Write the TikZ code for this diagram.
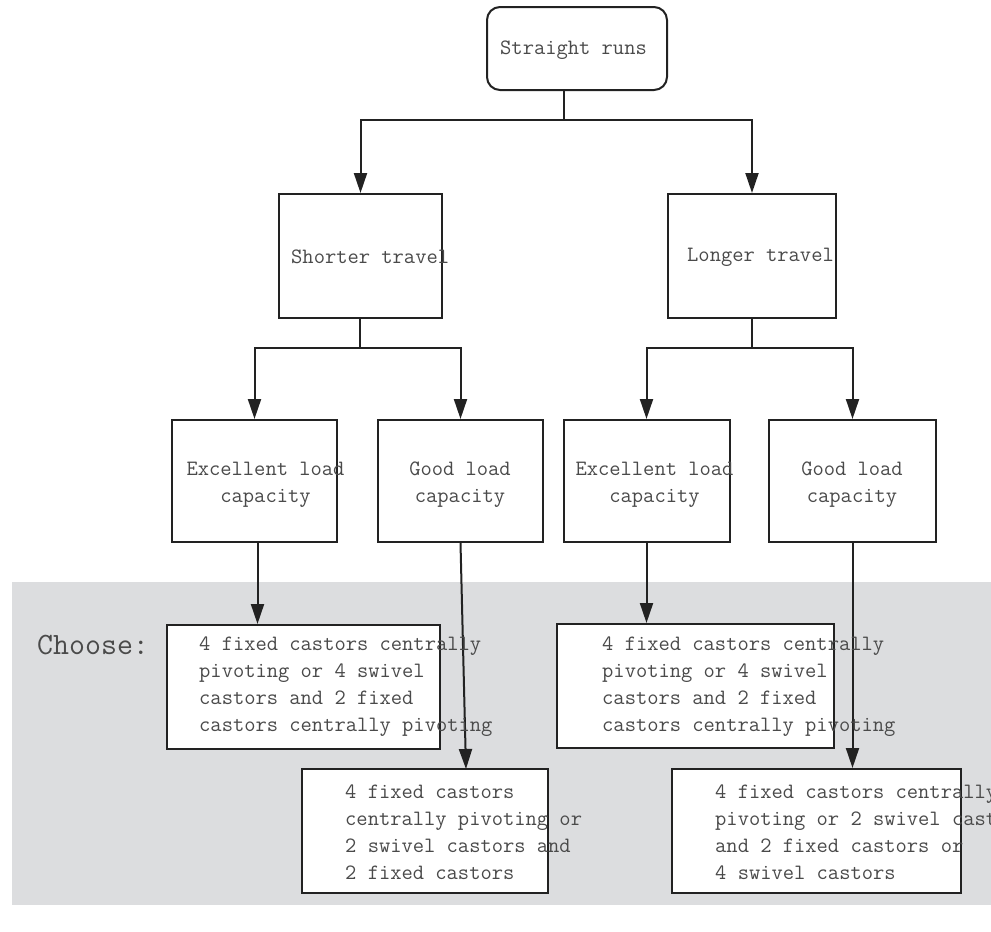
\documentclass[tikz,border=0pt]{standalone}
\usetikzlibrary{arrows.meta}
\definecolor{lineC}{HTML}{222222}
\definecolor{textC}{HTML}{4A4A4A}
\definecolor{bgC}{HTML}{DCDDDF}
\begin{document}
\begin{tikzpicture}[x=1pt,y=-1pt,
  box/.style={draw=lineC,line width=2pt,fill=white,inner sep=0pt},
  ln/.style={draw=lineC,line width=2pt},
  arr/.style={ln,-{Triangle[width=13pt,length=20pt]}},
  txt/.style={text=textC,font=\fontsize{21.9}{27}\selectfont\ttfamily,inner sep=0pt}]
\useasboundingbox (0,0) rectangle (991,932);
\fill[bgC] (12,582) rectangle (995,905);
% boxes
\node[box,rounded corners=13pt,minimum width=180pt,minimum height=83pt] (top) at (577,48.5) {};
\node[box,minimum width=163pt,minimum height=124pt] (S) at (360.5,256) {};
\node[box,minimum width=168pt,minimum height=124pt] (L) at (752,256) {};
\node[box,minimum width=165pt,minimum height=122pt] (E1) at (254.5,481) {};
\node[box,minimum width=165pt,minimum height=122pt] (G1) at (460.5,481) {};
\node[box,minimum width=166pt,minimum height=122pt] (E2) at (646.5,481) {};
\node[box,minimum width=167pt,minimum height=122pt] (G2) at (852.5,481) {};
\node[box,minimum width=273pt,minimum height=124pt] (A) at (303.5,687) {};
\node[box,minimum width=277pt,minimum height=124pt] (C) at (695.5,686) {};
\node[box,minimum width=246pt,minimum height=124pt] (B) at (425,831) {};
\node[box,minimum width=289pt,minimum height=124pt] (D) at (816.5,831) {};
% connectors
\coordinate (j1) at (564,120);
\coordinate (j2) at (360,348);
\coordinate (j3) at (752,348);
\coordinate (bIn) at (466,769);
\draw[ln] (top.south -| j1) -- (j1);
\draw[arr] (j1) -| (S.north);
\draw[arr] (j1) -| (L.north);
\draw[ln] (S.south -| j2) -- (j2);
\draw[arr] (j2) -| (E1.north);
\draw[arr] (j2) -| (G1.north);
\draw[ln] (L.south -| j3) -- (j3);
\draw[arr] (j3) -| (E2.north);
\draw[arr] (j3) -| (G2.north);
\draw[arr] ([xshift=3pt]E1.south) -- ([xshift=3pt]E1.south |- A.north);
\draw[arr] (G1.south) -- (bIn);
\draw[arr] (E2.south) -- (E2.south |- C.north);
\draw[arr] (G2.south) -- (G2.south |- D.north);
% texts
\node[txt,anchor=west] (topt) at (500,50) {Straight runs};
\node[txt,anchor=west] (St) at (291,257) {Shorter travel};
\node[txt,anchor=west] (Lt) at (687,257) {Longer travel};
\node[txt,align=center] (E1t) at (265.5,484.5) {Excellent load\\capacity};
\node[txt,align=center] (G1t) at (460,484.5) {Good load\\capacity};
\node[txt,align=center] (E2t) at (654.5,484.5) {Excellent load\\capacity};
\node[txt,align=center] (G2t) at (852,484.5) {Good load\\capacity};
\node[txt,align=left,anchor=west] (At) at (199,687) {4 fixed castors centrally\\pivoting or 4 swivel\\castors and 2 fixed\\castors centrally pivoting};
\node[txt,align=left,anchor=west] (Ct) at (602,687) {4 fixed castors centrally\\pivoting or 4 swivel\\castors and 2 fixed\\castors centrally pivoting};
\node[txt,align=left,anchor=west] (Bt) at (345,832) {4 fixed castors\\centrally pivoting or\\2 swivel castors and\\2 fixed castors};
\node[txt,align=left,anchor=west] (Dt) at (715,832) {4 fixed castors centrally\\pivoting or 2 swivel castors\\and 2 fixed castors or\\4 swivel castors};
\node[text=textC,font=\fontsize{31}{36}\selectfont\ttfamily,inner sep=0pt,anchor=west] (choose) at (37,645) {Choose:};
\end{tikzpicture}
\end{document}
